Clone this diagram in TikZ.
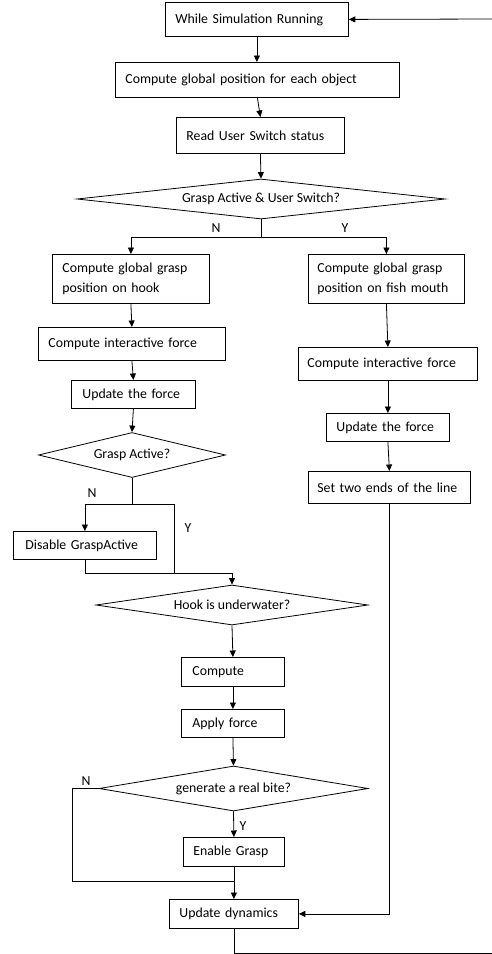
\documentclass[tikz,border=0pt]{standalone}
\usepackage{fontspec}
\setmainfont{Carlito}
\usepackage{tikz}
\usetikzlibrary{shapes.geometric,arrows.meta}

\begin{document}
\begin{tikzpicture}[x=1pt,y=-1pt,line width=0.8pt,
  font=\fontsize{13.8}{20}\selectfont,
  stepbox/.style={draw, anchor=north west, align=left, inner xsep=10pt, inner ysep=2pt},
  ask/.style={draw, diamond, inner sep=0pt, align=center},
  yn/.style={inner sep=0pt},
  arr/.style={-{Triangle[length=6.5pt,width=6pt]}}]
\useasboundingbox (0,0) rectangle (492,954);
% boxes
\node (run) at (165,2) [stepbox, text width=163pt, minimum height=34pt] {While Simulation Running};
\node (globpos) at (115,62) [stepbox, text width=264pt, minimum height=35pt] {Compute global position for each object};
\node (readsw) at (176,117) [stepbox, text width=148pt, minimum height=36pt] {Read User Switch status};
\node (hookpos) at (52,254) [stepbox, text width=137pt, minimum height=49pt] {Compute global grasp\\position on hook};
\node (mouthpos) at (308,254) [stepbox, inner xsep=9pt, text width=138pt, minimum height=49pt] {Compute global grasp\\position on fish mouth};
\node (forceL) at (38,327) [stepbox, text width=167pt, minimum height=33pt] {Compute interactive force};
\node (updL) at (71,380) [stepbox, inner xsep=11pt, text width=102pt, minimum height=28pt] {Update the force};
\node (forceR) at (298,347) [stepbox, inner xsep=9pt, text width=161pt, minimum height=33pt] {Compute interactive force};
\node (updR) at (326,413) [stepbox, text width=103pt, minimum height=28pt] {Update the force};
\node (setends) at (308,471) [stepbox, inner xsep=9pt, text width=144pt, minimum height=32pt] {Set two ends of the line};
\node (disable) at (13,531) [stepbox, inner xsep=12pt, text width=119pt, minimum height=28pt] {Disable GraspActive};
\node (compute) at (181,657) [stepbox, inner xsep=11pt, text width=81pt, minimum height=29pt] {Compute};
\node (apply) at (181,709) [stepbox, inner xsep=11pt, text width=81pt, minimum height=28pt] {Apply force};
\node (enable) at (183,837) [stepbox, text width=81pt, minimum height=29pt] {Enable Grasp};
\node (dyn) at (169,899) [stepbox, text width=109pt, minimum height=29pt] {Update dynamics};
% decisions
\node (switchq) at (261,199) [ask, aspect=9, minimum width=368pt, minimum height=40pt] {Grasp Active \& User Switch?};
\node (graspq) at (132,455) [ask, aspect=4, minimum width=187pt, minimum height=45pt] {Grasp Active?};
\node (waterq) at (232,605) [ask, aspect=7, minimum width=272pt, minimum height=40pt] {Hook is underwater?};
\node (biteq) at (233.5,788.5) [ask, aspect=6, minimum width=269pt, minimum height=45pt] {generate a real bite?};
% labels
\node (n1) at (216,228) [yn] {N};
\node (y1) at (345,228) [yn] {Y};
\node (n2) at (92,493) [yn] {N};
\node (y2) at (188,528) [yn] {Y};
\node (n3) at (86,781) [yn] {N};
\node (y3) at (243,826) [yn] {Y};
% loop ends and joins
\coordinate (loopin) at (492,19);
\coordinate (loopout) at (492,953);
\coordinate (ymerge) at (174,573);
\coordinate (join1) at (232,573);
\coordinate (join2) at (233.5,881);
% connectors
\draw[arr] (loopin) -- (run.east);
\draw[arr] (run.south) -- (run.south |- globpos.north);
\draw[arr] (globpos.south) -- (readsw.north);
\draw[arr] (readsw.south) -- (switchq.north);
\draw[arr] (switchq.south) -- ++(0,18) coordinate (split) -| (hookpos.north);
\draw[arr] (split) -| (mouthpos.north);
\draw[arr] (hookpos.south) -- (forceL.north);
\draw[arr] (forceL.south) -- (updL.north);
\draw[arr] (updL.south) -- (graspq.north);
\draw[arr] (graspq.south) -- ++(0,26) coordinate (gsplit) -| (disable.north);
\draw (gsplit) -| (ymerge);
\draw[arr] (disable.south) |- (join1) -- (waterq.north);
\draw[arr] (waterq.south) -- (compute.north);
\draw[arr] (compute.south) -- (apply.north);
\draw[arr] (apply.south) -- (biteq.north);
\draw[arr] (biteq.south) -- (enable.north);
\draw (biteq.west) -- ++(-26,0) |- (join2);
\draw[arr] (enable.south) -- (dyn.north);
\draw[arr] (mouthpos.south) -- (forceR.north);
\draw[arr] (forceR.south) -- (updR.north);
\draw[arr] (updR.south) -- (setends.north);
\draw[arr] (setends.south) |- (dyn.east);
\draw (dyn.south) |- (loopout);
\end{tikzpicture}
\end{document}
